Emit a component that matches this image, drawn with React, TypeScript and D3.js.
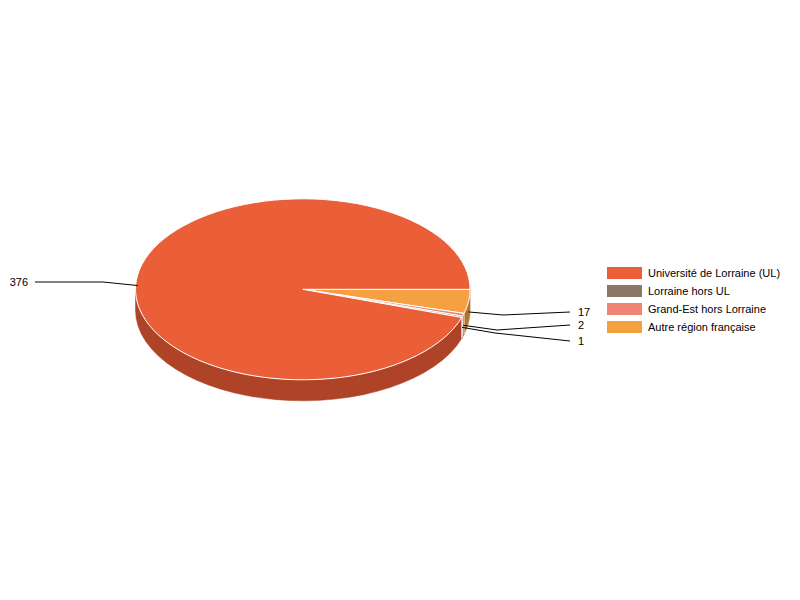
import React, { useEffect, useRef } from 'react';
import * as d3 from 'd3';

// clockwise from 3 o'clock, as the slices sit on the pie
const categories = ['Autre région française', 'Grand-Est hors Lorraine', 'Lorraine hors UL', 'Université de Lorraine (UL)'];
const values = [17, 2, 1, 376];
const colors = ['#F5A142', '#EF8375', '#8A7768', '#EA5E38'];
const sideColors = ['#B0762C', '#A85A4E', '#605348', '#AE4327'];

// legend runs the other way round
const legendOrder = [3, 2, 1, 0];

// leader elbows and label ends, same order as values
const elbows = [[503, 315], [497, 330], [495, 333], [103, 282]];
const labelEnds = [[570, 312], [570, 325], [570, 341], [35, 282]];

const cx = 302.8;
const cy = 289.3;
const rx = 167.3;
const ry = 90.5;
const depth = 21;

const pt = (a: number, dy = 0): [number, number] => [cx + rx * Math.cos(a), cy + dy + ry * Math.sin(a)];

export default function App() {
  const svgRef = useRef<SVGSVGElement>(null);

  useEffect(() => {
    if (!svgRef.current) return;
    const svg = d3.select(svgRef.current);
    svg.selectAll('*').remove();

    // d3.pie gives clockwise angles, here 0 means 3 o'clock on the ellipse
    const arcs = d3.pie<number>().sort(null).startAngle(0).endAngle(2 * Math.PI)(values);

    const g = svg.append('g');

    // side walls first, only the front half of the rim shows
    arcs.forEach((d, i) => {
      const a0 = Math.max(d.startAngle, 0);
      const a1 = Math.min(d.endAngle, Math.PI);
      if (a1 <= a0) return;
      const [x0, y0] = pt(a0);
      const [x1, y1] = pt(a1);
      const [x2, y2] = pt(a1, depth);
      const [x3, y3] = pt(a0, depth);
      g.append('path')
        .attr('d', `M${x0},${y0}A${rx},${ry} 0 0 1 ${x1},${y1}L${x2},${y2}A${rx},${ry} 0 0 0 ${x3},${y3}Z`)
        .attr('fill', sideColors[i])
        .attr('stroke', sideColors[i])
        .attr('stroke-width', 0.5);
    });

    // white cuts between the walls of the small slices
    arcs.slice(0, 3).forEach((d) => {
      const [x0, y0] = pt(d.endAngle);
      const [, y1] = pt(d.endAngle, depth);
      g.append('line')
        .attr('x1', x0)
        .attr('y1', y0)
        .attr('x2', x0)
        .attr('y2', y1)
        .attr('stroke', '#fff')
        .attr('stroke-width', 0.8);
    });

    // top faces
    arcs.forEach((d, i) => {
      const [x0, y0] = pt(d.startAngle);
      const [x1, y1] = pt(d.endAngle);
      const large = d.endAngle - d.startAngle > Math.PI ? 1 : 0;
      g.append('path')
        .attr('d', `M${cx},${cy}L${x0},${y0}A${rx},${ry} 0 ${large} 1 ${x1},${y1}Z`)
        .attr('fill', colors[i])
        .attr('stroke', '#fff')
        .attr('stroke-width', 1)
        .attr('stroke-linejoin', 'round');
    });

    // leaders and value labels
    arcs.forEach((d, i) => {
      const start = pt((d.startAngle + d.endAngle) / 2, depth / 2);
      const line = d3.line();
      g.append('path')
        .attr('d', line([start, elbows[i] as [number, number], labelEnds[i] as [number, number]]))
        .attr('fill', 'none')
        .attr('stroke', '#000')
        .attr('stroke-width', 1);
      const right = labelEnds[i][0] > cx;
      g.append('text')
        .attr('x', right ? labelEnds[i][0] + 8 : labelEnds[i][0] - 7)
        .attr('y', labelEnds[i][1] + 4)
        .attr('text-anchor', right ? 'start' : 'end')
        .style('font-family', '"Liberation Sans", Arial, sans-serif')
        .style('font-size', '11px')
        .attr('fill', '#000')
        .text(values[i]);
    });

    // legend
    const rows = svg.append('g').attr('transform', 'translate(607,267)');
    legendOrder.forEach((k, i) => {
      const row = rows.append('g').attr('transform', `translate(0,${i * 18})`);
      row.append('rect').attr('width', 35).attr('height', 12).attr('fill', colors[k]);
      row.append('text')
        .attr('x', 41)
        .attr('y', 10)
        .style('font-family', '"Liberation Sans", Arial, sans-serif')
        .style('font-size', '11px')
        .attr('fill', '#000')
        .text(categories[k]);
    });
  }, []);

  return <svg ref={svgRef} width={800} height={600} style={{ position: 'absolute', left: 0, top: 0, background: '#fff' }} />;
}
